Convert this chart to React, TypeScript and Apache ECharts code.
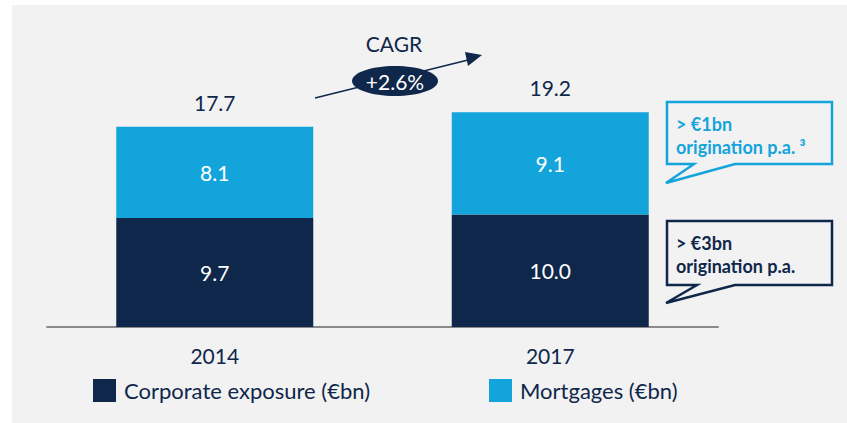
import React, { useEffect, useRef } from "react";
import * as echarts from "echarts";

const categories = ["2014", "2017"];
const corporate = [9.7, 10.0];
const mortgages = [8.1, 9.1];
const totals = ["17.7", "19.2"];
const corporateName = "Corporate exposure (€bn)";
const mortgagesName = "Mortgages (€bn)";
const cagrTitle = "CAGR";
const cagrValue = "+2.6%";
const callout1 = ["> €1bn", "origination p.a. ³"];
const callout2 = ["> €3bn", "origination p.a."];

const NAVY = "#0f274b";
const BLUE = "#13a4dc";
const FONT = "Lato";

export default function App() {
  const ref = useRef<HTMLDivElement>(null);
  useEffect(() => {
    if (!ref.current) return;
    const chart = echarts.init(ref.current, undefined, { renderer: "svg" });
    const legendBase = {
      top: 379,
      padding: 0,
      itemWidth: 23,
      itemHeight: 23,
      icon: "rect",
      textStyle: { color: NAVY, fontSize: 22, fontFamily: FONT, padding: [0, 0, 0, 3] },
    };
    chart.setOption({
      animation: false,
      backgroundColor: "#ffffff",
      textStyle: { fontFamily: FONT },
      grid: { left: 47, right: 129, top: 102, bottom: 96 },
      xAxis: {
        type: "category",
        data: categories,
        axisLine: { show: true, lineStyle: { color: "#8a8a8a", width: 2 } },
        axisTick: { show: false },
        axisLabel: { color: NAVY, fontSize: 21, fontFamily: FONT, margin: 18 },
      },
      yAxis: {
        type: "value",
        min: 0,
        max: 20,
        show: false,
        splitLine: { show: false },
      },
      legend: [
        { ...legendBase, data: [corporateName], left: 93 },
        { ...legendBase, data: [mortgagesName], left: 489 },
      ],
      series: [
        {
          name: corporateName,
          type: "bar",
          stack: "s",
          data: corporate,
          barWidth: 197,
          itemStyle: { color: NAVY },
          label: {
            show: true,
            position: "inside",
            color: "#ffffff",
            fontSize: 21,
            fontFamily: FONT,
            formatter: (p: any) => corporate[p.dataIndex].toFixed(1),
          },
        },
        {
          name: mortgagesName,
          type: "bar",
          stack: "s",
          data: mortgages,
          barWidth: 197,
          itemStyle: { color: BLUE },
          label: {
            show: true,
            position: "inside",
            color: "#ffffff",
            fontSize: 21,
            fontFamily: FONT,
            formatter: (p: any) => mortgages[p.dataIndex].toFixed(1),
          },
        },
        {
          name: "total",
          type: "bar",
          stack: "s",
          data: [0, 0],
          barWidth: 197,
          itemStyle: { color: "transparent" },
          label: {
            show: true,
            position: "top",
            distance: 14,
            color: NAVY,
            fontSize: 21,
            fontFamily: FONT,
            formatter: (p: any) => totals[p.dataIndex],
          },
        },
      ],
      graphic: [
        {
          type: "rect",
          z: -10,
          silent: true,
          shape: { x: 12, y: 5, width: 835, height: 418 },
          style: { fill: "#f2f2f2" },
        },
        {
          type: "line",
          z: 100,
          shape: { x1: 315, y1: 98, x2: 468, y2: 60 },
          style: { stroke: NAVY, lineWidth: 1.5 },
        },
        {
          type: "polygon",
          z: 100,
          shape: { points: [[482, 55], [465, 52], [468, 66]] },
          style: { fill: NAVY },
        },
        {
          type: "ellipse",
          z: 101,
          shape: { cx: 395, cy: 81, rx: 43, ry: 15 },
          style: { fill: NAVY },
        },
        {
          type: "text",
          z: 102,
          x: 395,
          y: 81,
          style: {
            text: cagrValue,
            fill: "#ffffff",
            fontSize: 21,
            fontFamily: FONT,
            align: "center",
            verticalAlign: "middle",
          },
        },
        {
          type: "text",
          z: 102,
          x: 394,
          y: 43,
          style: {
            text: cagrTitle,
            fill: NAVY,
            fontSize: 21,
            fontFamily: FONT,
            align: "center",
            verticalAlign: "middle",
          },
        },
        {
          type: "polygon",
          z: 100,
          shape: {
            points: [[667, 102], [832, 102], [832, 164], [735, 164], [666, 183], [694, 164], [667, 164]],
          },
          style: { fill: "#f2f2f2", stroke: BLUE, lineWidth: 2.5 },
        },
        {
          type: "text",
          z: 101,
          x: 676,
          y: 124,
          style: { text: callout1[0], fill: BLUE, fontSize: 18, fontWeight: "bold", fontFamily: FONT, verticalAlign: "middle" },
        },
        {
          type: "text",
          z: 101,
          x: 676,
          y: 147,
          style: { text: callout1[1], fill: BLUE, fontSize: 18, fontWeight: "bold", fontFamily: FONT, verticalAlign: "middle" },
        },
        {
          type: "polygon",
          z: 100,
          shape: {
            points: [[667, 221], [832, 221], [832, 285], [735, 285], [666, 303], [697, 285], [667, 285]],
          },
          style: { fill: "#f2f2f2", stroke: NAVY, lineWidth: 2.5 },
        },
        {
          type: "text",
          z: 101,
          x: 676,
          y: 243,
          style: { text: callout2[0], fill: NAVY, fontSize: 18, fontWeight: "bold", fontFamily: FONT, verticalAlign: "middle" },
        },
        {
          type: "text",
          z: 101,
          x: 676,
          y: 266,
          style: { text: callout2[1], fill: NAVY, fontSize: 18, fontWeight: "bold", fontFamily: FONT, verticalAlign: "middle" },
        },
      ],
    });
    return () => chart.dispose();
  }, []);
  return (
    <div
      ref={ref}
      style={{ position: "fixed", left: 0, top: 0, width: 847, height: 423 }}
    />
  );
}
